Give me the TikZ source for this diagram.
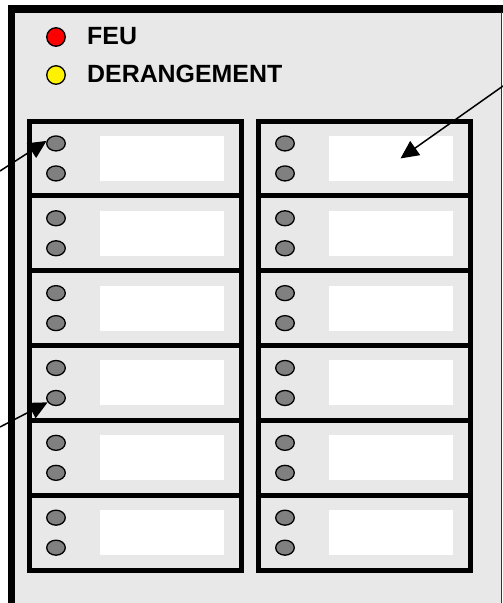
\documentclass[tikz,border=0pt]{standalone}
\usepackage{fontspec}
\setmainfont{Liberation Sans}
\usetikzlibrary{arrows.meta,shapes.geometric}
\definecolor{panel}{HTML}{E8E8E8}
\definecolor{ledgray}{HTML}{808080}
\begin{document}
\begin{tikzpicture}[x=1pt,y=-1pt,
  modbox/.style={draw=black,line width=5pt,fill=panel,minimum width=211.5pt,minimum height=74.85pt,inner sep=0pt,outer sep=0pt},
  namebox/.style={fill=white,minimum width=124pt,minimum height=45pt,inner sep=0pt},
  led/.style={ellipse,draw=black,line width=1.3pt,fill=ledgray,minimum width=18.6pt,minimum height=15pt,inner sep=0pt},
  toplamp/.style={circle,draw=black,line width=1.3pt,minimum size=18.5pt,inner sep=0pt},
  title/.style={font=\fontsize{24.9}{28}\selectfont\bfseries,anchor=base west,inner sep=0pt},
  pointer/.style={line width=1.5pt,-{Triangle[length=18pt,width=17pt]}}]
\useasboundingbox (0,0) rectangle (503,603);
\fill[panel] (8,5) rectangle (501,603);
\draw[line width=7.5pt] (11.5,603) -- (11.5,9) -- (503,9);
\draw[line width=1pt,black!80] (501,12) -- (501,603);
\node[toplamp,fill=red] (feu) at (56,37) {};
\node[title] (feutxt) at (87,44) {FEU};
\node[toplamp,fill=yellow] (der) at (56,75) {};
\node[title] (dertxt) at (87,82) {DERANGEMENT};
\foreach \k in {0,...,5}{
  \pgfmathsetmacro\yc{121+74.85*(\k+0.5)}
  \node[modbox] (ml\k) at (135.25,\yc) {};
  \node[modbox] (mr\k) at (364.4,\yc) {};
  \node[namebox] (nl\k) at (162,\yc) {};
  \node[namebox] (nr\k) at (391,\yc) {};
  \node[led] (al\k) at (56,\yc-15) {};
  \node[led] (bl\k) at (56,\yc+15) {};
  \node[led] (ar\k) at (285,\yc-15) {};
  \node[led] (br\k) at (285,\yc+15) {};
}
\coordinate (s1) at (0,171);
\coordinate (s2) at (503,86);
\coordinate (s3) at (0,427);
\draw[pointer] (s1) -- (al0.165);
\draw[pointer] (s2) -- ([xshift=9.5pt]nr0.center);
\draw[pointer] (s3) -- (bl3);
\end{tikzpicture}
\end{document}
